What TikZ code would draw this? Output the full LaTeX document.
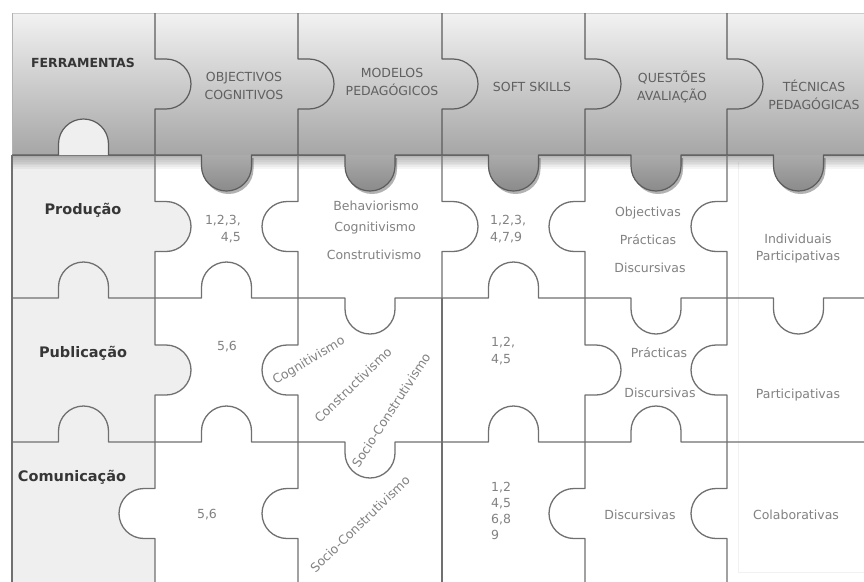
\documentclass[tikz,border=0pt]{standalone}
\usepackage{fontspec}
\setmainfont{DejaVu Sans}
\usetikzlibrary{shadows}

\definecolor{gridline}{HTML}{707070}
\definecolor{hdredge}{HTML}{5C5C5C}
\definecolor{rowfill}{HTML}{EFEFEF}
\definecolor{hdrtop}{HTML}{F2F2F2}
\definecolor{hdrbot}{HTML}{A6A6A6}
\definecolor{tabtop}{HTML}{ABABAB}
\definecolor{tabbot}{HTML}{8A8A8A}
\definecolor{hdrtext}{HTML}{606060}
\definecolor{celltext}{HTML}{828282}
\definecolor{labeltext}{HTML}{363636}
\definecolor{faintline}{HTML}{F1F1F1}

% puzzle tabs: base centre (#1,#2), neck 50, depth 36
\newcommand\tR[2]{(#1,#2-25) -- ++(11,0) arc[start angle=-90,end angle=90,radius=25] -- (#1,#2+25)}
\newcommand\tL[2]{(#1,#2-25) -- ++(-11,0) arc[start angle=-90,end angle=-270,radius=25] -- (#1,#2+25)}
\newcommand\tD[2]{(#1-25,#2) -- ++(0,11) arc[start angle=180,end angle=0,radius=25] -- (#1+25,#2)}
\newcommand\tU[2]{(#1-25,#2) -- ++(0,-11) arc[start angle=180,end angle=360,radius=25] -- (#1+25,#2)}

\begin{document}
\begin{tikzpicture}[x=1pt,y=-1pt,
  gline/.style={draw=gridline, line width=1.3pt, line join=round},
  hline/.style={draw=hdredge, line width=1.2pt, line join=round},
  hdr/.style={font=\fontsize{12.5}{18}\selectfont, text=hdrtext, align=center, inner sep=0pt},
  hdrbold/.style={font=\bfseries\fontsize{12.5}{18}\selectfont, text=labeltext, inner sep=0pt},
  rowlbl/.style={font=\bfseries\fontsize{14.5}{17}\selectfont, text=labeltext, inner sep=0pt},
  cell/.style={font=\fontsize{12.5}{17}\selectfont, text=celltext, align=center, inner sep=0pt},
  tabfill/.style={top color=tabtop, bottom color=tabbot,
    drop shadow={shadow xshift=2pt, shadow yshift=-3pt, opacity=.3, fill=black}}
]
\useasboundingbox (0,0) rectangle (864,581);
\clip (0,0) rectangle (864,581);
\fill[white] (0,0) rectangle (864,581);

% label column and its tabs
\fill[rowfill] (12,155) rectangle (155,585);
\fill[rowfill] \tR{155}{226.5} -- cycle;
\fill[rowfill] \tR{155}{370} -- cycle;
\fill[white] \tL{155}{513.5} -- cycle;

% faint inner frame of the last column
\draw[faintline, line width=0.8pt] (738,162) -- (738,572) -- (870,572);

% header band
\fill[top color=hdrtop, bottom color=hdrbot] (12,13) rectangle (870,155);
\fill[rowfill] \tU{83.5}{155} -- cycle;
\foreach \i in {1,...,8}
  \fill[black, opacity=0.04] (12,155) rectangle (870,155+\i*1.7);

% header tabs hanging into the first row
\foreach \c in {226.5,370,513.5,656,798.5}
  \fill[tabfill] \tD{\c}{155} -- cycle;

% header outlines
\draw[draw=gray!40, line width=1pt] (12,13) -- (870,13);
\draw[draw=gray!60, line width=1pt] (12,13) -- (12,155);
\foreach \x in {155,298,442,585,727}
  \draw[hline] (\x,13) -- \tR{\x}{84} -- (\x,155);
\draw[hline] (12,155) -- \tU{83.5}{155} -- (155,155) -- \tD{226.5}{155} -- (298,155)
  -- \tD{370}{155} -- (442,155) -- \tD{513.5}{155} -- (585,155)
  -- \tD{656}{155} -- (727,155) -- \tD{798.5}{155} -- (870,155);

% grid: vertical edges
\draw[gline] (12,155) -- (12,585);
% row 1
\draw[gline] (155,155) -- \tR{155}{226.5} -- (155,298);
\draw[gline] (298,155) -- \tL{298}{226.5} -- (298,298);
\draw[gline] (442,155) -- \tR{442}{226.5} -- (442,298);
\draw[gline] (585,155) -- \tL{585}{226.5} -- (585,298);
\draw[gline] (727,155) -- \tL{727}{226.5} -- (727,298);
% row 2
\draw[gline] (155,298) -- \tR{155}{370} -- (155,442);
\draw[gline] (298,298) -- \tL{298}{370} -- (298,442);
\draw[gline] (442,298) -- (442,442);
\draw[gline] (585,298) -- \tR{585}{370} -- (585,442);
\draw[gline] (727,298) -- \tL{727}{370} -- (727,442);
% row 3
\draw[gline] (155,442) -- \tL{155}{513.5} -- (155,585);
\draw[gline] (298,442) -- \tL{298}{513.5} -- (298,585);
\draw[gline] (442,442) -- (442,585);
\draw[gline] (585,442) -- \tL{585}{513.5} -- (585,585);
\draw[gline] (727,442) -- \tL{727}{513.5} -- (727,585);

% grid: horizontal edges
\draw[gline] (12,298) -- \tU{83.5}{298} -- (155,298) -- \tU{226.5}{298} -- (298,298)
  -- \tD{370}{298} -- (442,298) -- \tU{513.5}{298} -- (585,298)
  -- \tD{656}{298} -- (727,298) -- \tD{798.5}{298} -- (870,298);
\draw[gline] (12,442) -- \tU{83.5}{442} -- (155,442) -- \tU{226.5}{442} -- (298,442)
  -- \tD{370}{442} -- (442,442) -- \tU{513.5}{442} -- (585,442)
  -- \tU{656}{442} -- (727,442) -- (870,442);

% header texts
\node[hdrbold] (ferr) at (83,63) {FERRAMENTAS};
\node[hdr] (objc) at (244,86) {OBJECTIVOS\\COGNITIVOS};
\node[hdr] (mped) at (392,82) {MODELOS\\PEDAGÓGICOS};
\node[hdr] (soft) at (532,87) {SOFT SKILLS};
\node[hdr] (qaval) at (672,87) {QUESTÕES\\AVALIAÇÃO};
\node[hdr] (tped) at (814,95) {TÉCNICAS\\PEDAGÓGICAS};

% row labels
\node[rowlbl] (prod) at (83,210) {Produção};
\node[rowlbl] (publ) at (83,353) {Publicação};
\node[rowlbl] (comu) at (72,477) {Comunicação};

% row 1
\node[cell, align=right, anchor=east] (p1) at (241,229) {1,2,3,\\4,5};
\node[cell] (p2a) at (376,206) {Behaviorismo};
\node[cell] (p2b) at (375,228) {Cognitivismo};
\node[cell] (p2c) at (374,255) {Construtivismo};
\node[cell, align=left, anchor=west] (p3) at (490,229) {1,2,3,\\4,7,9};
\node[cell] (p4a) at (648,213) {Objectivas};
\node[cell] (p4b) at (648,240) {Prácticas};
\node[cell] (p4c) at (650,268) {Discursivas};
\node[cell] (p5) at (798,249) {Individuais\\Participativas};

% row 2
\node[cell] (b1) at (227,347) {5,6};
\node[cell, rotate=31] (b2a) at (309,361) {Cognitivismo};
\node[cell, rotate=44] (b2b) at (353,385) {Constructivismo};
\node[cell, rotate=57] (b2c) at (391,410) {Socio-Construtivismo};
\node[cell, align=left, anchor=west] (b3) at (491,351) {1,2,\\4,5};
\node[cell] (b4a) at (659,353) {Prácticas};
\node[cell] (b4b) at (660,393) {Discursivas};
\node[cell] (b5) at (798,395) {Participativas};

% row 3
\node[cell] (c1) at (207,515) {5,6};
\node[cell, rotate=44] (c2) at (360,524) {Socio-Construtivismo};
\node[cell, align=left, anchor=west, font=\fontsize{12.5}{16}\selectfont] (c3) at (491,511) {1,2\\4,5\\6,8\\9};
\node[cell] (c4) at (640,515) {Discursivas};
\node[cell] (c5) at (796,515) {Colaborativas};
\end{tikzpicture}
\end{document}
